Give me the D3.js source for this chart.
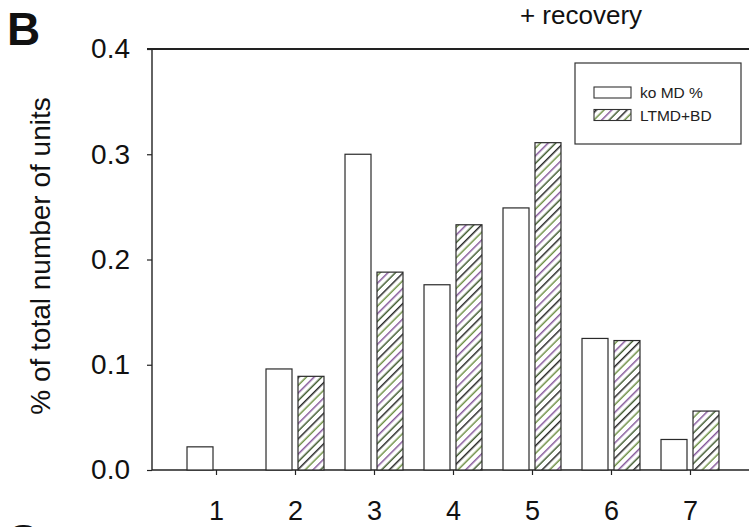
<!DOCTYPE html>
<html><head><meta charset="utf-8">
<script src="https://cdn.jsdelivr.net/npm/d3@7"></script>
<style>
html,body{margin:0;padding:0;background:#fff;}
text{font-family:"Liberation Sans",Arial,Helvetica,sans-serif;}
</style></head>
<body>
<script>
const categories = ["1","2","3","4","5","6","7"];
const seriesNames = ["ko MD %","LTMD+BD"];
const koMD = [0.022,0.096,0.300,0.176,0.249,0.125,0.029];
const ltmdBD = [0.000,0.089,0.188,0.233,0.311,0.123,0.056];
const yTicks = [0.0,0.1,0.2,0.3,0.4];

const W=749,H=527;
const svg=d3.select("body").append("svg").attr("width",W).attr("height",H);

const defs=svg.append("defs");
const sp=5.4, tile=sp*4;
const pat=defs.append("pattern").attr("id","hatch").attr("patternUnits","userSpaceOnUse")
  .attr("width",tile).attr("height",tile).attr("patternTransform","rotate(-45)");
pat.append("rect").attr("width",tile).attr("height",tile).attr("fill","#fff");
const hcols=["#262626","#6d8f45","#85589a","#3f5a2e"];
hcols.forEach((c,i)=>pat.append("line").attr("x1",0).attr("x2",tile).attr("y1",i*sp+sp/2).attr("y2",i*sp+sp/2)
  .attr("stroke",c).attr("stroke-width",1.5));

const y=d3.scaleLinear().domain([0,0.4]).range([470,49]);
const x0=d3.scaleBand().domain(categories).range([176.5,729.5]).paddingInner(0.266).paddingOuter(0.133);
const x1=d3.scaleBand().domain(seriesNames).range([0,x0.bandwidth()]).paddingInner(0.1875);

const rows=categories.map((c,i)=>({cat:c,vals:[koMD[i],ltmdBD[i]]}));

// baseline
svg.append("line").attr("x1",152).attr("x2",W).attr("y1",y(0)).attr("y2",y(0))
  .attr("stroke","#222").attr("stroke-width",1.3);

const g=svg.append("g");
rows.forEach(r=>{
  r.vals.forEach((v,j)=>{
    if(v<=0) return;
    g.append("rect")
      .attr("x",x0(r.cat)+x1(seriesNames[j]))
      .attr("y",y(v))
      .attr("width",x1.bandwidth())
      .attr("height",y(0)-y(v))
      .attr("fill",j===0?"#fff":"url(#hatch)")
      .attr("stroke","#2a2a2a").attr("stroke-width",1.2);
  });
});

// x axis ticks and labels
const xAxis=d3.axisBottom(d3.scalePoint().domain(categories).range([x0("1")+x0.bandwidth()/2,x0("7")+x0.bandwidth()/2]))
  .tickSize(5).tickPadding(26);
const gx=svg.append("g").attr("transform",`translate(0,${y(0)})`).call(xAxis);
gx.select(".domain").remove();
gx.selectAll("line").attr("stroke","#222").attr("stroke-width",1.2);
gx.selectAll("text").attr("font-size",27).attr("fill","#111");

// y axis
const yAxis=d3.axisLeft(y).tickValues(yTicks).tickFormat(d3.format(".1f")).tickSize(5).tickPadding(17);
const gy=svg.append("g").attr("transform","translate(152,0)").call(yAxis);
gy.select(".domain").attr("stroke","#222").attr("stroke-width",1.4).attr("d","M0,49V470");
gy.selectAll("line").attr("stroke","#222").attr("stroke-width",1.2);
gy.selectAll("text").attr("font-size",28).attr("fill","#111");

// top frame line
svg.append("line").attr("x1",147).attr("x2",W).attr("y1",y(0.4)).attr("y2",y(0.4))
  .attr("stroke","#222").attr("stroke-width",2);

// y label
svg.append("text").attr("transform","translate(50,256) rotate(-90)").attr("text-anchor","middle")
  .attr("font-size",28).attr("fill","#111").text("% of total number of units");

// panel letters and title
svg.append("text").attr("x",7).attr("y",45).attr("font-size",46).attr("font-weight","bold").attr("fill","#111").text("B");
svg.append("text").attr("x",6).attr("y",557).attr("font-size",46).attr("font-weight","bold").attr("fill","#111").text("C");
svg.append("text").attr("x",581).attr("y",24).attr("text-anchor","middle").attr("font-size",26).attr("fill","#111").text("+ recovery");

// legend
const lg=svg.append("g");
lg.append("rect").attr("x",575).attr("y",63).attr("width",166).attr("height",81)
  .attr("fill","#fff").attr("stroke","#333").attr("stroke-width",1.2);
seriesNames.forEach((s,i)=>{
  lg.append("rect").attr("x",594).attr("y",87+i*22.5).attr("width",37).attr("height",11)
    .attr("fill",i===0?"#fff":"url(#hatch)").attr("stroke","#333").attr("stroke-width",1.1);
  lg.append("text").attr("x",640).attr("y",98+i*22.5).attr("font-size",15.5).attr("fill","#222").text(s);
});
</script>
</body></html>
